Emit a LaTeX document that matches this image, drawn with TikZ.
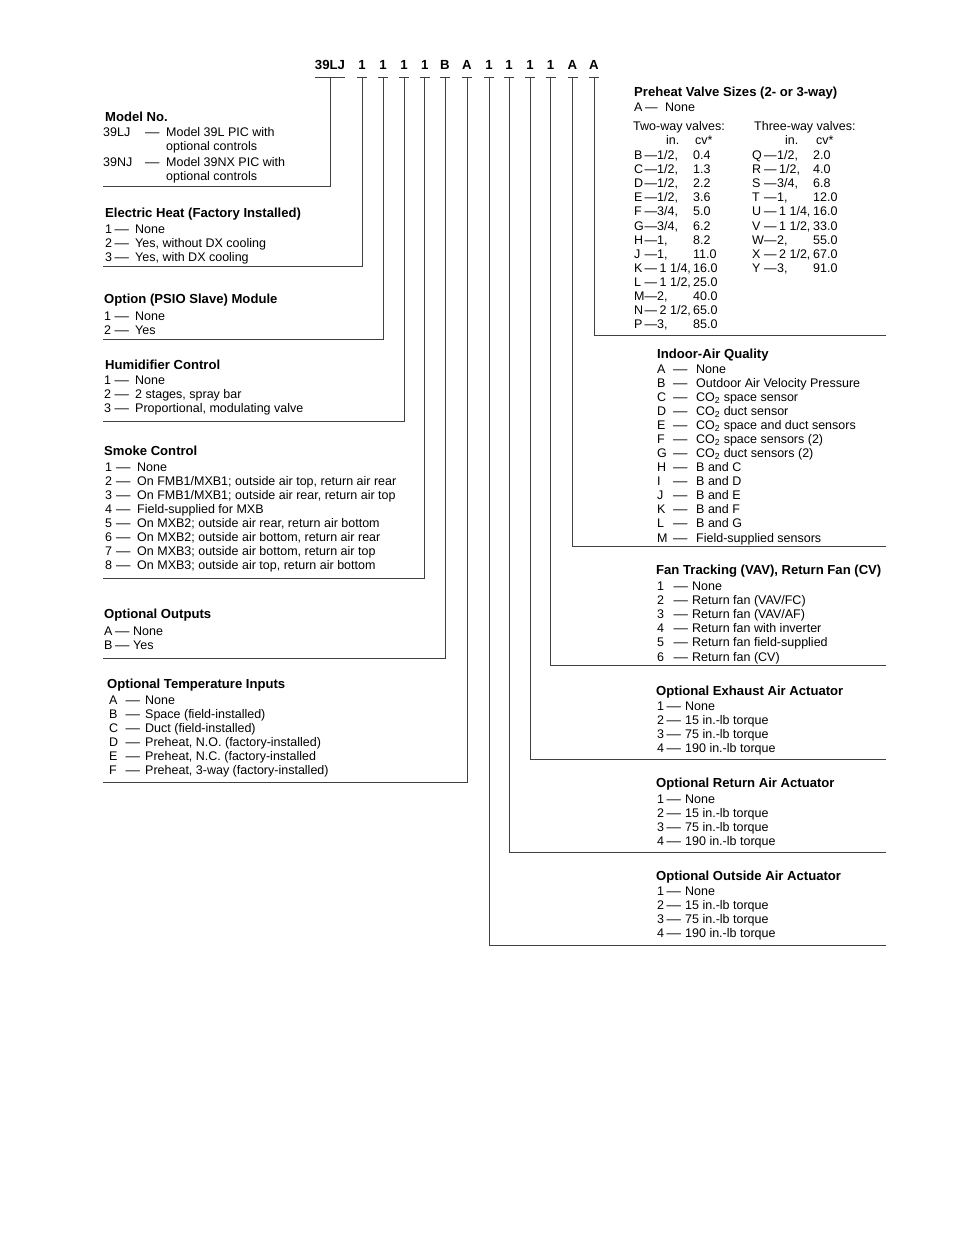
\documentclass[tikz,border=0pt]{standalone}
\usepackage{fontspec}
\setmainfont{Liberation Sans}
\newcounter{nd}
\tikzset{
  txt/.style={anchor=base west,inner sep=0pt,font=\fontsize{12.5}{14}\selectfont},
  ttl/.style={anchor=base west,inner sep=0pt,font=\fontsize{13.1}{15}\selectfont\bfseries},
  code/.style={anchor=base,inner sep=0pt,font=\fontsize{13.2}{15}\selectfont\bfseries},
  conn/.style={draw=black!75,line width=1pt},
}
\newcommand\tx[3]{\stepcounter{nd}\node[txt] (n\arabic{nd}) at (#1,-#2) {#3};}
\newcommand\ttl[3]{\stepcounter{nd}\node[ttl] (n\arabic{nd}) at (#1,-#2) {#3};}
\newcommand\dsh{\scalebox{1.15}[1]{—}}
\newcommand\kvr[6]{\tx{#1}{#4}{#5}\tx{#2}{#4}{\dsh}\tx{#3}{#4}{#6}}
\newcommand\kvp[6]{\tx{#1}{#4}{#5}\tx{#2}{#4}{—}\tx{#3}{#4}{#6}}
\begin{document}
\begin{tikzpicture}[x=1pt,y=1pt]
\useasboundingbox (0,0) rectangle (954,-1235);
\fill[white] (0,0) rectangle (954,-1235);

% ---- code row ----
\node[code] (c0) at (330,-69) {39LJ};
\node[code] (c1) at (362,-69) {1};
\node[code] (c2) at (383,-69) {1};
\node[code] (c3) at (404,-69) {1};
\node[code] (c4) at (424.7,-69) {1};
\node[code] (c5) at (445,-69) {B};
\node[code] (c6) at (467,-69) {A};
\node[code] (c7) at (489,-69) {1};
\node[code] (c8) at (509,-69) {1};
\node[code] (c9) at (530,-69) {1};
\node[code] (c10) at (550.5,-69) {1};
\node[code] (c11) at (572.5,-69) {A};
\node[code] (c12) at (594,-69) {A};

% underlines
\draw[conn] ([xshift=-15pt,yshift=-8pt]c0.base) -- ([xshift=15pt,yshift=-8pt]c0.base);
\foreach \i in {1,...,12}{
  \draw[conn] ([xshift=-5pt,yshift=-8pt]c\i.base) -- ([xshift=5pt,yshift=-8pt]c\i.base);
}

% end coordinates
\coordinate (e0) at (103,-186);
\coordinate (e1) at (103,-266.5);
\coordinate (e2) at (103,-339);
\coordinate (e3) at (103,-421);
\coordinate (e4) at (103,-578.5);
\coordinate (e5) at (103,-658);
\coordinate (e6) at (103,-782);
\coordinate (e7) at (886,-945);
\coordinate (e8) at (886,-852);
\coordinate (e9) at (886,-759);
\coordinate (e10) at (886,-665);
\coordinate (e11) at (886,-546);
\coordinate (e12) at (886,-335);
\foreach \i in {0,...,12}{
  \draw[conn] ([yshift=-8pt]c\i.base) |- (e\i);
}

% ---- Model No. ----
\ttl{105}{121}{Model No.}
\tx{103}{136}{39LJ}\tx{145}{136}{\dsh}\tx{166}{136}{Model 39L PIC with}
\tx{166}{150}{optional controls}
\tx{103}{166}{39NJ}\tx{145}{166}{\dsh}\tx{166}{166}{Model 39NX PIC with}
\tx{166}{180}{optional controls}

% ---- Electric Heat ----
\ttl{105}{217}{Electric Heat (Factory Installed)}
\kvr{105}{114.5}{135}{233}{1}{None}
\kvr{105}{114.5}{135}{247}{2}{Yes, without DX cooling}
\kvr{105}{114.5}{135}{261}{3}{Yes, with DX cooling}

% ---- PSIO ----
\ttl{104}{303}{Option (PSIO Slave) Module}
\kvr{104}{114.5}{135}{320}{1}{None}
\kvr{104}{114.5}{135}{334}{2}{Yes}

% ---- Humidifier ----
\ttl{105}{369}{Humidifier Control}
\kvr{104}{114.5}{135}{384}{1}{None}
\kvr{104}{114.5}{135}{398}{2}{2 stages, spray bar}
\kvr{104}{114.5}{135}{412}{3}{Proportional, modulating valve}

% ---- Smoke Control ----
\ttl{104}{455}{Smoke Control}
\kvr{105}{116}{137}{471}{1}{None}
\kvr{105}{116}{137}{485}{2}{On FMB1/MXB1; outside air top, return air rear}
\kvr{105}{116}{137}{499}{3}{On FMB1/MXB1; outside air rear, return air top}
\kvr{105}{116}{137}{513}{4}{Field-supplied for MXB}
\kvr{105}{116}{137}{527}{5}{On MXB2; outside air rear, return air bottom}
\kvr{105}{116}{137}{541}{6}{On MXB2; outside air bottom, return air rear}
\kvr{105}{116}{137}{555}{7}{On MXB3; outside air bottom, return air top}
\kvr{105}{116}{137}{569.5}{8}{On MXB3; outside air top, return air bottom}

% ---- Optional Outputs ----
\ttl{104}{618}{Optional Outputs}
\kvr{104}{115}{133}{635}{A}{None}
\kvr{104}{115}{133}{649}{B}{Yes}

% ---- Optional Temperature Inputs ----
\ttl{107}{688}{Optional Temperature Inputs}
\kvr{109}{125.5}{145}{704}{A}{None}
\kvr{109}{125.5}{145}{718}{B}{Space (field-installed)}
\kvr{109}{125.5}{145}{732}{C}{Duct (field-installed)}
\kvr{109}{125.5}{145}{746}{D}{Preheat, N.O. (factory-installed)}
\kvr{109}{125.5}{145}{760}{E}{Preheat, N.C. (factory-installed}
\kvr{109}{125.5}{145}{774}{F}{Preheat, 3-way (factory-installed)}

% ---- Preheat Valve Sizes ----
\ttl{634}{96.5}{Preheat Valve Sizes (2- or 3-way)}
\kvp{634}{645}{665}{111.5}{A}{None}
\tx{633}{130}{Two-way valves:}
\tx{754}{130}{Three-way valves:}
\tx{666}{144}{in.}\tx{695}{144}{cv*}
\tx{785}{144}{in.}\tx{816}{144}{cv*}
% two-way
\kvp{634}{644.5}{657}{159.5}{B}{1/2,}\tx{693}{159.5}{0.4}
\kvp{634}{644.5}{657}{173.6}{C}{1/2,}\tx{693}{173.6}{1.3}
\kvp{634}{644.5}{657}{187.7}{D}{1/2,}\tx{693}{187.7}{2.2}
\kvp{634}{644.5}{657}{201.8}{E}{1/2,}\tx{693}{201.8}{3.6}
\kvp{634}{644.5}{657}{215.9}{F}{3/4,}\tx{693}{215.9}{5.0}
\kvp{634}{644.5}{657}{230}{G}{3/4,}\tx{693}{230}{6.2}
\kvp{634}{644.5}{657}{244.1}{H}{1,}\tx{693}{244.1}{8.2}
\kvp{634}{644.5}{657}{258.2}{J}{1,}\tx{693}{258.2}{11.0}
\kvp{634}{644.5}{659.5}{272.3}{K}{1 1/4,}\tx{693}{272.3}{16.0}
\kvp{634}{644.5}{659.5}{286.4}{L}{1 1/2,}\tx{693}{286.4}{25.0}
\kvp{634}{644.5}{657}{300.5}{M}{2,}\tx{693}{300.5}{40.0}
\kvp{634}{644.5}{659.5}{314.6}{N}{2 1/2,}\tx{693}{314.6}{65.0}
\kvp{634}{644.5}{657}{328.7}{P}{3,}\tx{693}{328.7}{85.0}
% three-way
\kvp{752}{764}{777}{159.5}{Q}{1/2,}\tx{813}{159.5}{2.0}
\kvp{752}{764}{779}{173.6}{R}{1/2,}\tx{813}{173.6}{4.0}
\kvp{752}{764}{777}{187.7}{S}{3/4,}\tx{813}{187.7}{6.8}
\kvp{752}{764}{777}{201.8}{T}{1,}\tx{813}{201.8}{12.0}
\kvp{752}{764}{779}{215.9}{U}{1 1/4,}\tx{813}{215.9}{16.0}
\kvp{752}{764}{779}{230}{V}{1 1/2,}\tx{813}{230}{33.0}
\kvp{752}{764}{777}{244.1}{W}{2,}\tx{813}{244.1}{55.0}
\kvp{752}{764}{779}{258.2}{X}{2 1/2,}\tx{813}{258.2}{67.0}
\kvp{752}{764}{777}{272.3}{Y}{3,}\tx{813}{272.3}{91.0}

% ---- Indoor-Air Quality ----
\ttl{657}{358}{Indoor-Air Quality}
\kvr{657}{673}{696}{373}{A}{None}
\kvr{657}{673}{696}{387.1}{B}{Outdoor Air Velocity Pressure}
\kvr{657}{673}{696}{401.2}{C}{CO\textsubscript{2} space sensor}
\kvr{657}{673}{696}{415.2}{D}{CO\textsubscript{2} duct sensor}
\kvr{657}{673}{696}{429.3}{E}{CO\textsubscript{2} space and duct sensors}
\kvr{657}{673}{696}{443.4}{F}{CO\textsubscript{2} space sensors (2)}
\kvr{657}{673}{696}{457.5}{G}{CO\textsubscript{2} duct sensors (2)}
\kvr{657}{673}{696}{471.6}{H}{B and C}
\kvr{657}{673}{696}{485.6}{I}{B and D}
\kvr{657}{673}{696}{499.7}{J}{B and E}
\kvr{657}{673}{696}{513.8}{K}{B and F}
\kvr{657}{673}{696}{527.9}{L}{B and G}
\kvr{657}{673}{696}{542}{M}{Field-supplied sensors}

% ---- Fan Tracking ----
\ttl{656}{574}{Fan Tracking (VAV), Return Fan (CV)}
\kvr{657}{673.5}{692}{590}{1}{None}
\kvr{657}{673.5}{692}{604.2}{2}{Return fan (VAV/FC)}
\kvr{657}{673.5}{692}{618.4}{3}{Return fan (VAV/AF)}
\kvr{657}{673.5}{692}{632.6}{4}{Return fan with inverter}
\kvr{657}{673.5}{692}{646.8}{5}{Return fan field-supplied}
\kvr{657}{673.5}{692}{661}{6}{Return fan (CV)}

% ---- Exhaust ----
\ttl{656}{695}{Optional Exhaust Air Actuator}
\kvr{657}{666.5}{685}{710}{1}{None}
\kvr{657}{666.5}{685}{724}{2}{15 in.-lb torque}
\kvr{657}{666.5}{685}{738}{3}{75 in.-lb torque}
\kvr{657}{666.5}{685}{752}{4}{190 in.-lb torque}

% ---- Return ----
\ttl{656}{787}{Optional Return Air Actuator}
\kvr{657}{666.5}{685}{803}{1}{None}
\kvr{657}{666.5}{685}{817}{2}{15 in.-lb torque}
\kvr{657}{666.5}{685}{831}{3}{75 in.-lb torque}
\kvr{657}{666.5}{685}{845}{4}{190 in.-lb torque}

% ---- Outside ----
\ttl{656}{880}{Optional Outside Air Actuator}
\kvr{657}{666.5}{685}{895}{1}{None}
\kvr{657}{666.5}{685}{909}{2}{15 in.-lb torque}
\kvr{657}{666.5}{685}{923}{3}{75 in.-lb torque}
\kvr{657}{666.5}{685}{937}{4}{190 in.-lb torque}
\end{tikzpicture}
\end{document}
